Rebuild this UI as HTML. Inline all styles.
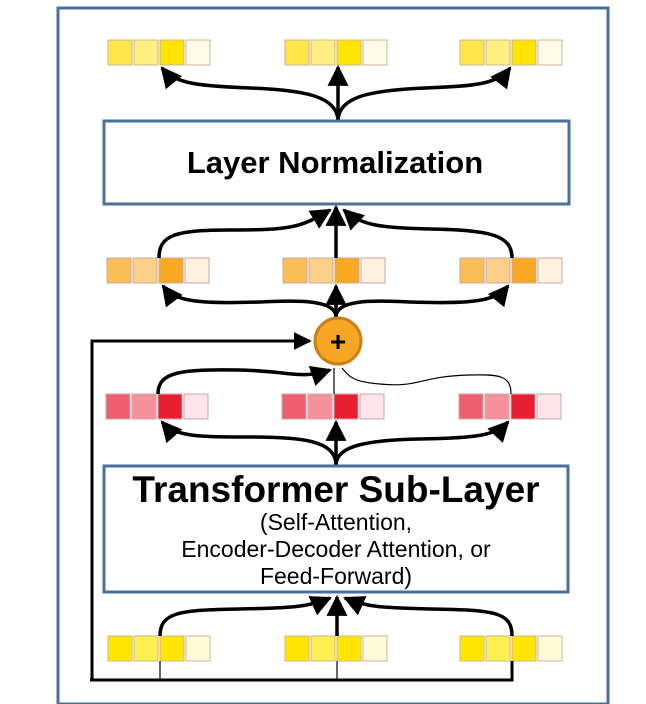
<!DOCTYPE html>
<html><head><meta charset="utf-8"><style>
html,body{margin:0;padding:0;background:#fff;}
svg{display:block;}
text{font-family:"Liberation Sans",Arial,sans-serif;}
</style></head><body>
<svg width="646" height="704" viewBox="0 0 646 704" xmlns="http://www.w3.org/2000/svg">
<defs>
<marker id="ah" viewBox="0 0 10 10" refX="9" refY="5" markerWidth="6" markerHeight="6" orient="auto-start-reverse" markerUnits="strokeWidth">
<path d="M0,0 L10,5 L0,10 z" fill="#000"/>
</marker>
</defs>
<rect x="58" y="8" width="550" height="696" fill="#fff" stroke="#4a6f9c" stroke-width="3"/>

<g stroke="#c8b890" stroke-width="1">
<rect x="108" y="40" width="24" height="25" fill="#ffe54a"/><rect x="134" y="40" width="24" height="25" fill="#ffee82"/><rect x="160" y="40" width="24" height="25" fill="#ffe400"/><rect x="186" y="40" width="24" height="25" fill="#fffbe6"/>
<rect x="285" y="40" width="24" height="25" fill="#ffe54a"/><rect x="311" y="40" width="24" height="25" fill="#ffee82"/><rect x="337" y="40" width="24" height="25" fill="#ffe400"/><rect x="363" y="40" width="24" height="25" fill="#fffbe6"/>
<rect x="460" y="40" width="24" height="25" fill="#ffe54a"/><rect x="486" y="40" width="24" height="25" fill="#ffee82"/><rect x="512" y="40" width="24" height="25" fill="#ffe400"/><rect x="538" y="40" width="24" height="25" fill="#fffbe6"/>
</g>
<g fill="none" stroke="#000" stroke-width="3.5">
<path d="M338,121 C338,95 300,90 250,88 C200,86 175,84 162,68" marker-end="url(#ah)"/>
<path d="M338,121 L338,67" marker-end="url(#ah)"/>
<path d="M338,121 C338,95 376,90 426,88 C476,86 498,84 510,68" marker-end="url(#ah)"/>
</g>

<rect x="104" y="121" width="465" height="83" fill="#fff" stroke="#4a6f9c" stroke-width="3"/>
<text x="335" y="173" font-size="31" font-weight="bold" text-anchor="middle">Layer Normalization</text>

<g stroke="#c8a8a0" stroke-width="1">
<rect x="107" y="258" width="24" height="25" fill="#fbbd55"/><rect x="133" y="258" width="24" height="25" fill="#fcd08a"/><rect x="159" y="258" width="24" height="25" fill="#f9a824"/><rect x="185" y="258" width="24" height="25" fill="#fff1e0"/>
<rect x="283" y="258" width="24" height="25" fill="#fbbd55"/><rect x="309" y="258" width="24" height="25" fill="#fcd08a"/><rect x="335" y="258" width="24" height="25" fill="#f9a824"/><rect x="361" y="258" width="24" height="25" fill="#fff1e0"/>
<rect x="460" y="258" width="24" height="25" fill="#fbbd55"/><rect x="486" y="258" width="24" height="25" fill="#fcd08a"/><rect x="512" y="258" width="24" height="25" fill="#f9a824"/><rect x="538" y="258" width="24" height="25" fill="#fff1e0"/>
</g>
<g fill="none" stroke="#000" stroke-width="3.5">
<path d="M159,258 C159,235 175,230 230,230 C290,230 300,228 330,210" marker-end="url(#ah)"/>
<path d="M336,258 L336,207" marker-end="url(#ah)"/>
<path d="M512,258 C512,235 490,230 430,229 C380,228 360,225 344,210" marker-end="url(#ah)"/>
<path d="M336,317 C336,300 300,300 260,302 C200,304 175,302 163,286" marker-end="url(#ah)"/>
<path d="M336,317 L336,286" marker-end="url(#ah)"/>
<path d="M336,317 C336,300 370,300 410,302 C470,304 495,302 508,286" marker-end="url(#ah)"/>
</g>

<path d="M92,680 L92,341 L310,341" fill="none" stroke="#000" stroke-width="3" marker-end="url(#ah)"/>
<circle cx="338" cy="341" r="23" fill="#f5a623" stroke="#c8801c" stroke-width="3"/>
<text x="338" y="351" font-size="28" font-weight="bold" text-anchor="middle">+</text>

<g stroke="#c8a8b0" stroke-width="1">
<rect x="106" y="394" width="24" height="25" fill="#ef5f6f"/><rect x="132" y="394" width="24" height="25" fill="#f4919c"/><rect x="158" y="394" width="24" height="25" fill="#e81e32"/><rect x="184" y="394" width="24" height="25" fill="#fde4e8"/>
<rect x="282" y="394" width="24" height="25" fill="#ef5f6f"/><rect x="308" y="394" width="24" height="25" fill="#f4919c"/><rect x="334" y="394" width="24" height="25" fill="#e81e32"/><rect x="360" y="394" width="24" height="25" fill="#fde4e8"/>
<rect x="459" y="394" width="24" height="25" fill="#ef5f6f"/><rect x="485" y="394" width="24" height="25" fill="#f4919c"/><rect x="511" y="394" width="24" height="25" fill="#e81e32"/><rect x="537" y="394" width="24" height="25" fill="#fde4e8"/>
</g>
<g fill="none" stroke="#000" stroke-width="3.5">
<path d="M158,394 C158,372 180,369 240,370 C290,371 300,380 330,370" marker-end="url(#ah)"/>
<path d="M334,394 L334,368" stroke-width="1.2"/>
<path d="M511,394 C511,376 500,374 470,375 C420,376 420,388 380,384 C355,382 350,378 342,368" stroke-width="1.2"/>
<path d="M336,465 C336,440 300,437 250,437 C200,437 175,437 162,422" marker-end="url(#ah)"/>
<path d="M336,465 L336,422" marker-end="url(#ah)"/>
<path d="M336,465 C336,445 370,440 420,439 C475,438 495,436 508,422" marker-end="url(#ah)"/>
</g>

<rect x="104" y="466" width="464" height="126" fill="#fff" stroke="#4a6f9c" stroke-width="3"/>
<text x="336" y="502" font-size="37" font-weight="bold" text-anchor="middle">Transformer Sub-Layer</text>
<text x="336" y="530" font-size="23" text-anchor="middle">(Self-Attention,</text>
<text x="336" y="557" font-size="23" text-anchor="middle">Encoder-Decoder Attention, or</text>
<text x="336" y="584" font-size="23" text-anchor="middle">Feed-Forward)</text>

<g stroke="#c8b890" stroke-width="1">
<rect x="108" y="636" width="24" height="25" fill="#ffe600"/><rect x="134" y="636" width="24" height="25" fill="#fff050"/><rect x="160" y="636" width="24" height="25" fill="#ffe600"/><rect x="186" y="636" width="24" height="25" fill="#fffbd8"/>
<rect x="285" y="636" width="24" height="25" fill="#ffe600"/><rect x="311" y="636" width="24" height="25" fill="#fff050"/><rect x="337" y="636" width="24" height="25" fill="#ffe600"/><rect x="363" y="636" width="24" height="25" fill="#fffbd8"/>
<rect x="460" y="636" width="24" height="25" fill="#ffe600"/><rect x="486" y="636" width="24" height="25" fill="#fff050"/><rect x="512" y="636" width="24" height="25" fill="#ffe600"/><rect x="538" y="636" width="24" height="25" fill="#fffbd8"/>
</g>
<g fill="none" stroke="#000">
<path d="M160,636 C160,612 180,610 240,609 C290,608 310,607 330,598" stroke-width="3.5" marker-end="url(#ah)"/>
<path d="M337,636 L337,597" stroke-width="3.5" marker-end="url(#ah)"/>
<path d="M512,636 C512,612 495,610 430,609 C385,608 365,607 345,598" stroke-width="3.5" marker-end="url(#ah)"/>
<path d="M160,661 L160,679 M337,661 L337,679 M512,661 L512,679" stroke-width="1.2"/>
<path d="M512,661 L512,680 L90,680" stroke-width="3"/>
</g>
</svg>
</body></html>
